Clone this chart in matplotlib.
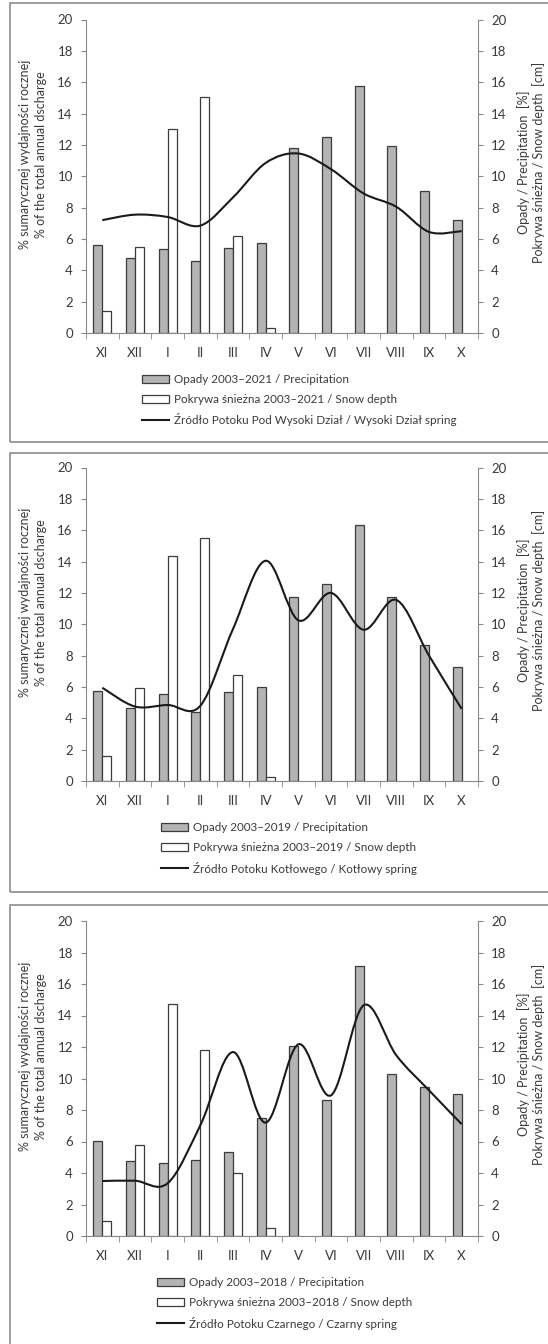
import numpy as np
import matplotlib
matplotlib.use("Agg")
import matplotlib.pyplot as plt
from matplotlib.path import Path
from matplotlib.patches import PathPatch, Rectangle
from matplotlib.lines import Line2D

plt.rcParams['font.family'] = ['Lato', 'DejaVu Sans']

months = ['XI', 'XII', 'I', 'II', 'III', 'IV', 'V', 'VI', 'VII', 'VIII', 'IX', 'X']
nan = np.nan

# Wysoki Dział
opady_wd = [5.6, 4.76, 5.37, 4.6, 5.41, 5.77, 11.83, 12.48, 15.73, 11.95, 9.09, 7.24]
snieg_wd = [1.42, 5.5, 13.0, 15.07, 6.2, 0.32, nan, nan, nan, nan, nan, nan]
zrodlo_wd = [7.2, 7.55, 7.4, 6.85, 8.65, 10.85, 11.45, 10.45, 8.9, 8.05, 6.45, 6.5]

# Kotłowy
opady_k = [5.74, 4.68, 5.53, 4.38, 5.66, 5.98, 11.72, 12.57, 16.32, 11.77, 8.7, 7.3]
snieg_k = [1.62, 5.91, 14.38, 15.51, 6.79, 0.23, nan, nan, nan, nan, nan, nan]
zrodlo_k = [5.95, 4.75, 4.85, 4.8, 9.7, 14.05, 10.25, 12.0, 9.65, 11.55, 8.0, 4.6]

# Czarny
opady_c = [6.03, 4.76, 4.66, 4.85, 5.35, 7.51, 12.06, 8.63, 17.16, 10.26, 9.46, 9.04]
snieg_c = [0.95, 5.76, 14.71, 11.83, 4.0, 0.51, nan, nan, nan, nan, nan, nan]
zrodlo_c = [3.49, 3.51, 3.35, 7.03, 11.68, 7.2, 12.17, 8.93, 14.65, 11.47, 9.25, 7.1]

panels = [
    (opady_wd, snieg_wd, zrodlo_wd, '2003–2021',
     'Źródło Potoku Pod Wysoki Dział / Wysoki Dział spring'),
    (opady_k, snieg_k, zrodlo_k, '2003–2019',
     'Źródło Potoku Kotłowego / Kotłowy spring'),
    (opady_c, snieg_c, zrodlo_c, '2003–2018',
     'Źródło Potoku Czarnego / Czarny spring'),
]

W, H = 548, 1344
TXT = '#3a3a3a'
AX = '#888888'


def fx(px):
    return px / W


def fy(py):
    return 1 - py / H


def smooth_path(x, y):
    # bezier through every point, like the smoothed line in a spreadsheet
    pts = np.column_stack([x, y]).astype(float)
    n = len(pts)
    verts = [pts[0]]
    codes = [Path.MOVETO]
    for i in range(n - 1):
        p0 = pts[max(i - 1, 0)]
        p1 = pts[i]
        p2 = pts[i + 1]
        p3 = pts[min(i + 2, n - 1)]
        verts += [p1 + (p2 - p0) / 6, p2 - (p3 - p1) / 6, p2]
        codes += [Path.CURVE4] * 3
    return Path(verts, codes)


fig = plt.figure(figsize=(W / 100, H / 100), dpi=100)

# pixel layout of each panel: axes top, axes bottom, frame top, frame bottom, legend x
layout = [
    (19.5, 333, 3, 442, 142),
    (467.5, 781, 453, 892, 161),
    (921, 1236, 905, 1400, 157),
]

x = np.arange(len(months))
bw = 0.28

for (opady, snieg, zrodlo, okres, zrodlo_lbl), (top, bot, ftop, fbot, lx) in zip(panels, layout):
    fig.add_artist(Rectangle((fx(10), fy(fbot)), fx(560) - fx(10), fy(ftop) - fy(fbot),
                             transform=fig.transFigure, fill=False,
                             edgecolor='#8c8c8c', lw=1.2))

    ax = fig.add_axes([fx(86), fy(bot), fx(478) - fx(86), fy(top) - fy(bot)])
    b1 = ax.bar(x - bw / 2, opady, bw, color='#b4b4b4', edgecolor='#3c3c3c', lw=0.9,
                label='Opady ' + okres + ' / Precipitation')
    b2 = ax.bar(x + bw / 2, snieg, bw, color='white', edgecolor='#3c3c3c', lw=0.9,
                label='Pokrywa śnieżna ' + okres + ' / Snow depth')
    ax.add_patch(PathPatch(smooth_path(x, zrodlo), fill=False, edgecolor='#1a1a1a',
                           lw=1.5, zorder=3))

    ax.set_xlim(-0.5, 11.5)
    ax.set_ylim(0, 20)
    ax.set_yticks(range(0, 21, 2))
    ax.set_xticks(x)
    ax.set_xticklabels(months)
    ax.set_xticks(np.arange(-0.5, 12, 1), minor=True)
    ax.tick_params(axis='x', which='major', length=0, pad=10, labelsize=9.5, labelcolor=TXT)
    ax.tick_params(axis='x', which='minor', length=4, color=AX, direction='out')
    ax.tick_params(axis='y', length=3.5, color=AX, pad=6, labelsize=9.5, labelcolor=TXT)
    for s in ['top', 'right']:
        ax.spines[s].set_visible(False)
    for s in ['left', 'bottom']:
        ax.spines[s].set_color(AX)

    ax2 = ax.twinx()
    ax2.set_ylim(0, 20)
    ax2.set_yticks(range(0, 21, 2))
    ax2.tick_params(axis='y', length=3.5, color=AX, pad=6, labelsize=9.5, labelcolor=TXT)
    for s in ['top', 'left', 'bottom']:
        ax2.spines[s].set_visible(False)
    ax2.spines['right'].set_color(AX)

    mid = (top + bot) / 2
    fig.text(fx(33), fy(mid - 22),
             '% sumarycznej wydajności rocznej\n% of the total annual dscharge',
             rotation=90, ha='center', va='center', fontsize=9, color=TXT,
             linespacing=1.35, multialignment='center')
    fig.text(fx(531), fy(mid - 14),
             'Opady / Precipitation  [%]\nPokrywa śnieżna / Snow depth  [cm]',
             rotation=90, ha='center', va='center', fontsize=9, color=TXT,
             linespacing=1.25, multialignment='center')

    linia = Line2D([], [], color='#1a1a1a', lw=1.5)
    ax.legend([b1, b2, linia], [b1.get_label(), b2.get_label(), zrodlo_lbl],
              loc='upper left', bbox_to_anchor=(fx(lx), fy(bot + 41)),
              bbox_transform=fig.transFigure, frameon=False, fontsize=8.4,
              handlelength=2.3, handletextpad=0.45, labelspacing=0.75,
              borderpad=0, borderaxespad=0, labelcolor=TXT)

fig.savefig('out.png', dpi=100)
